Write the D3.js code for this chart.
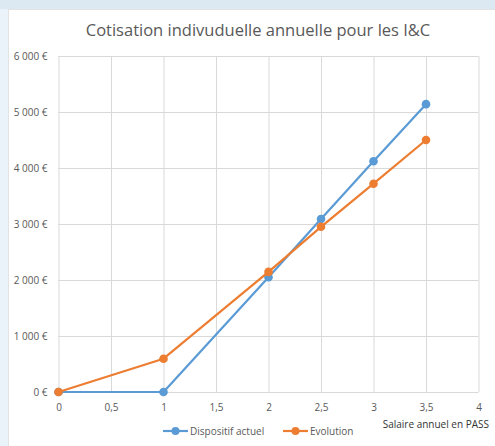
<!DOCTYPE html>
<html>
<head>
<meta charset="utf-8">
<script src="https://cdn.jsdelivr.net/npm/d3@7"></script>
<style>
  html, body { margin: 0; padding: 0; background: #eaf3fa; }
  svg { display: block; }
</style>
</head>
<body>
<div id="chart"></div>
<script>
const title = "Cotisation indivuduelle annuelle pour les I&C";
const xLabel = "Salaire annuel en PASS";
const salaire = [0, 1, 2, 2.5, 3, 3.5];
const dispositifActuel = [0, 0, 2050, 3090, 4120, 5140];
const evolution = [0, 595, 2145, 2950, 3720, 4500];
const xTicks = [0, 0.5, 1, 1.5, 2, 2.5, 3, 3.5, 4];
const yTicks = [0, 1000, 2000, 3000, 4000, 5000, 6000];

const series = [
    {name: "Dispositif actuel", values: dispositifActuel, color: "#5b9bd5"},
    {name: "Evolution", values: evolution, color: "#ed7d31"}
];

const width = 495, height = 446;
const textColor = "#595959";
const gridColor = "#d9d9d9";
const font = "'Open Sans', 'Noto Sans', sans-serif";

const svg = d3.select("#chart").append("svg")
    .attr("width", width)
    .attr("height", height);

// background: light blue slide with the white chart box
svg.append("rect").attr("width", width).attr("height", 9).attr("fill", "#dce9f2");
svg.append("rect")
    .attr("x", 8.5).attr("y", 9.5)
    .attr("width", width).attr("height", height)
    .attr("fill", "#fff")
    .attr("stroke", "#e3e3e3");

const x = d3.scaleLinear().domain([0, 4]).range([58.5, 478.5]);
const y = d3.scaleLinear().domain([0, 6000]).range([392, 56]);

// "6 000 €" style labels
const fmt = v => d3.format(",")(v).replace(/,/g, "\u00a0") + "\u00a0€";

// gridlines
svg.append("g")
    .attr("transform", "translate(0,392)")
    .call(d3.axisBottom(x).tickValues(xTicks).tickSize(-(392 - 56)).tickFormat(""))
    .call(g => g.select(".domain").remove())
    .call(g => g.selectAll("line").attr("stroke", gridColor));

svg.append("g")
    .attr("transform", "translate(58.5,0)")
    .call(d3.axisLeft(y).tickValues(yTicks).tickSize(-(478.5 - 58.5)).tickFormat(""))
    .call(g => g.select(".domain").remove())
    .call(g => g.selectAll("line").attr("stroke", gridColor));

// tick labels
svg.append("g")
    .attr("transform", "translate(0,392)")
    .call(d3.axisBottom(x).tickValues(xTicks).tickSize(0).tickPadding(12)
        .tickFormat(d => String(d).replace(".", ",")))
    .call(g => g.select(".domain").remove())
    .call(g => g.selectAll("text").attr("fill", textColor).attr("font-size", 10).attr("font-family", font));

svg.append("g")
    .attr("transform", "translate(58.5,0)")
    .call(d3.axisLeft(y).tickValues(yTicks).tickSize(0).tickPadding(11).tickFormat(fmt))
    .call(g => g.select(".domain").remove())
    .call(g => g.selectAll("text").attr("fill", textColor).attr("font-size", 10).attr("font-family", font));

// title
svg.append("text")
    .attr("x", 258).attr("y", 36)
    .attr("text-anchor", "middle")
    .attr("fill", textColor)
    .attr("font-family", font)
    .attr("font-size", 16.5)
    .text(title);

// x axis label
svg.append("text")
    .attr("x", 489).attr("y", 428)
    .attr("text-anchor", "end")
    .attr("fill", "#333")
    .attr("font-family", font)
    .attr("font-size", 10)
    .text(xLabel);

// lines and markers
const line = d3.line()
    .x((d, i) => x(salaire[i]))
    .y(d => y(d));

series.forEach(s => {
    const g = svg.append("g");
    g.append("path")
        .attr("d", line(s.values))
        .attr("fill", "none")
        .attr("stroke", s.color)
        .attr("stroke-width", 2.2)
        .attr("stroke-linejoin", "round");
    g.selectAll("circle")
        .data(s.values)
        .join("circle")
        .attr("cx", (d, i) => x(salaire[i]))
        .attr("cy", d => y(d))
        .attr("r", 4.3)
        .attr("fill", s.color);
});

// legend
const legendPos = [163, 283];
series.forEach((s, i) => {
    const g = svg.append("g").attr("transform", `translate(${legendPos[i]},431)`);
    g.append("line").attr("x1", 0).attr("x2", 25).attr("stroke", s.color).attr("stroke-width", 2.2);
    g.append("circle").attr("cx", 12.5).attr("r", 4).attr("fill", s.color);
    g.append("text")
        .attr("x", 27).attr("dy", "0.35em")
        .attr("fill", textColor)
        .attr("font-family", font)
        .attr("font-size", 10)
        .text(s.name);
});
</script>
</body>
</html>
